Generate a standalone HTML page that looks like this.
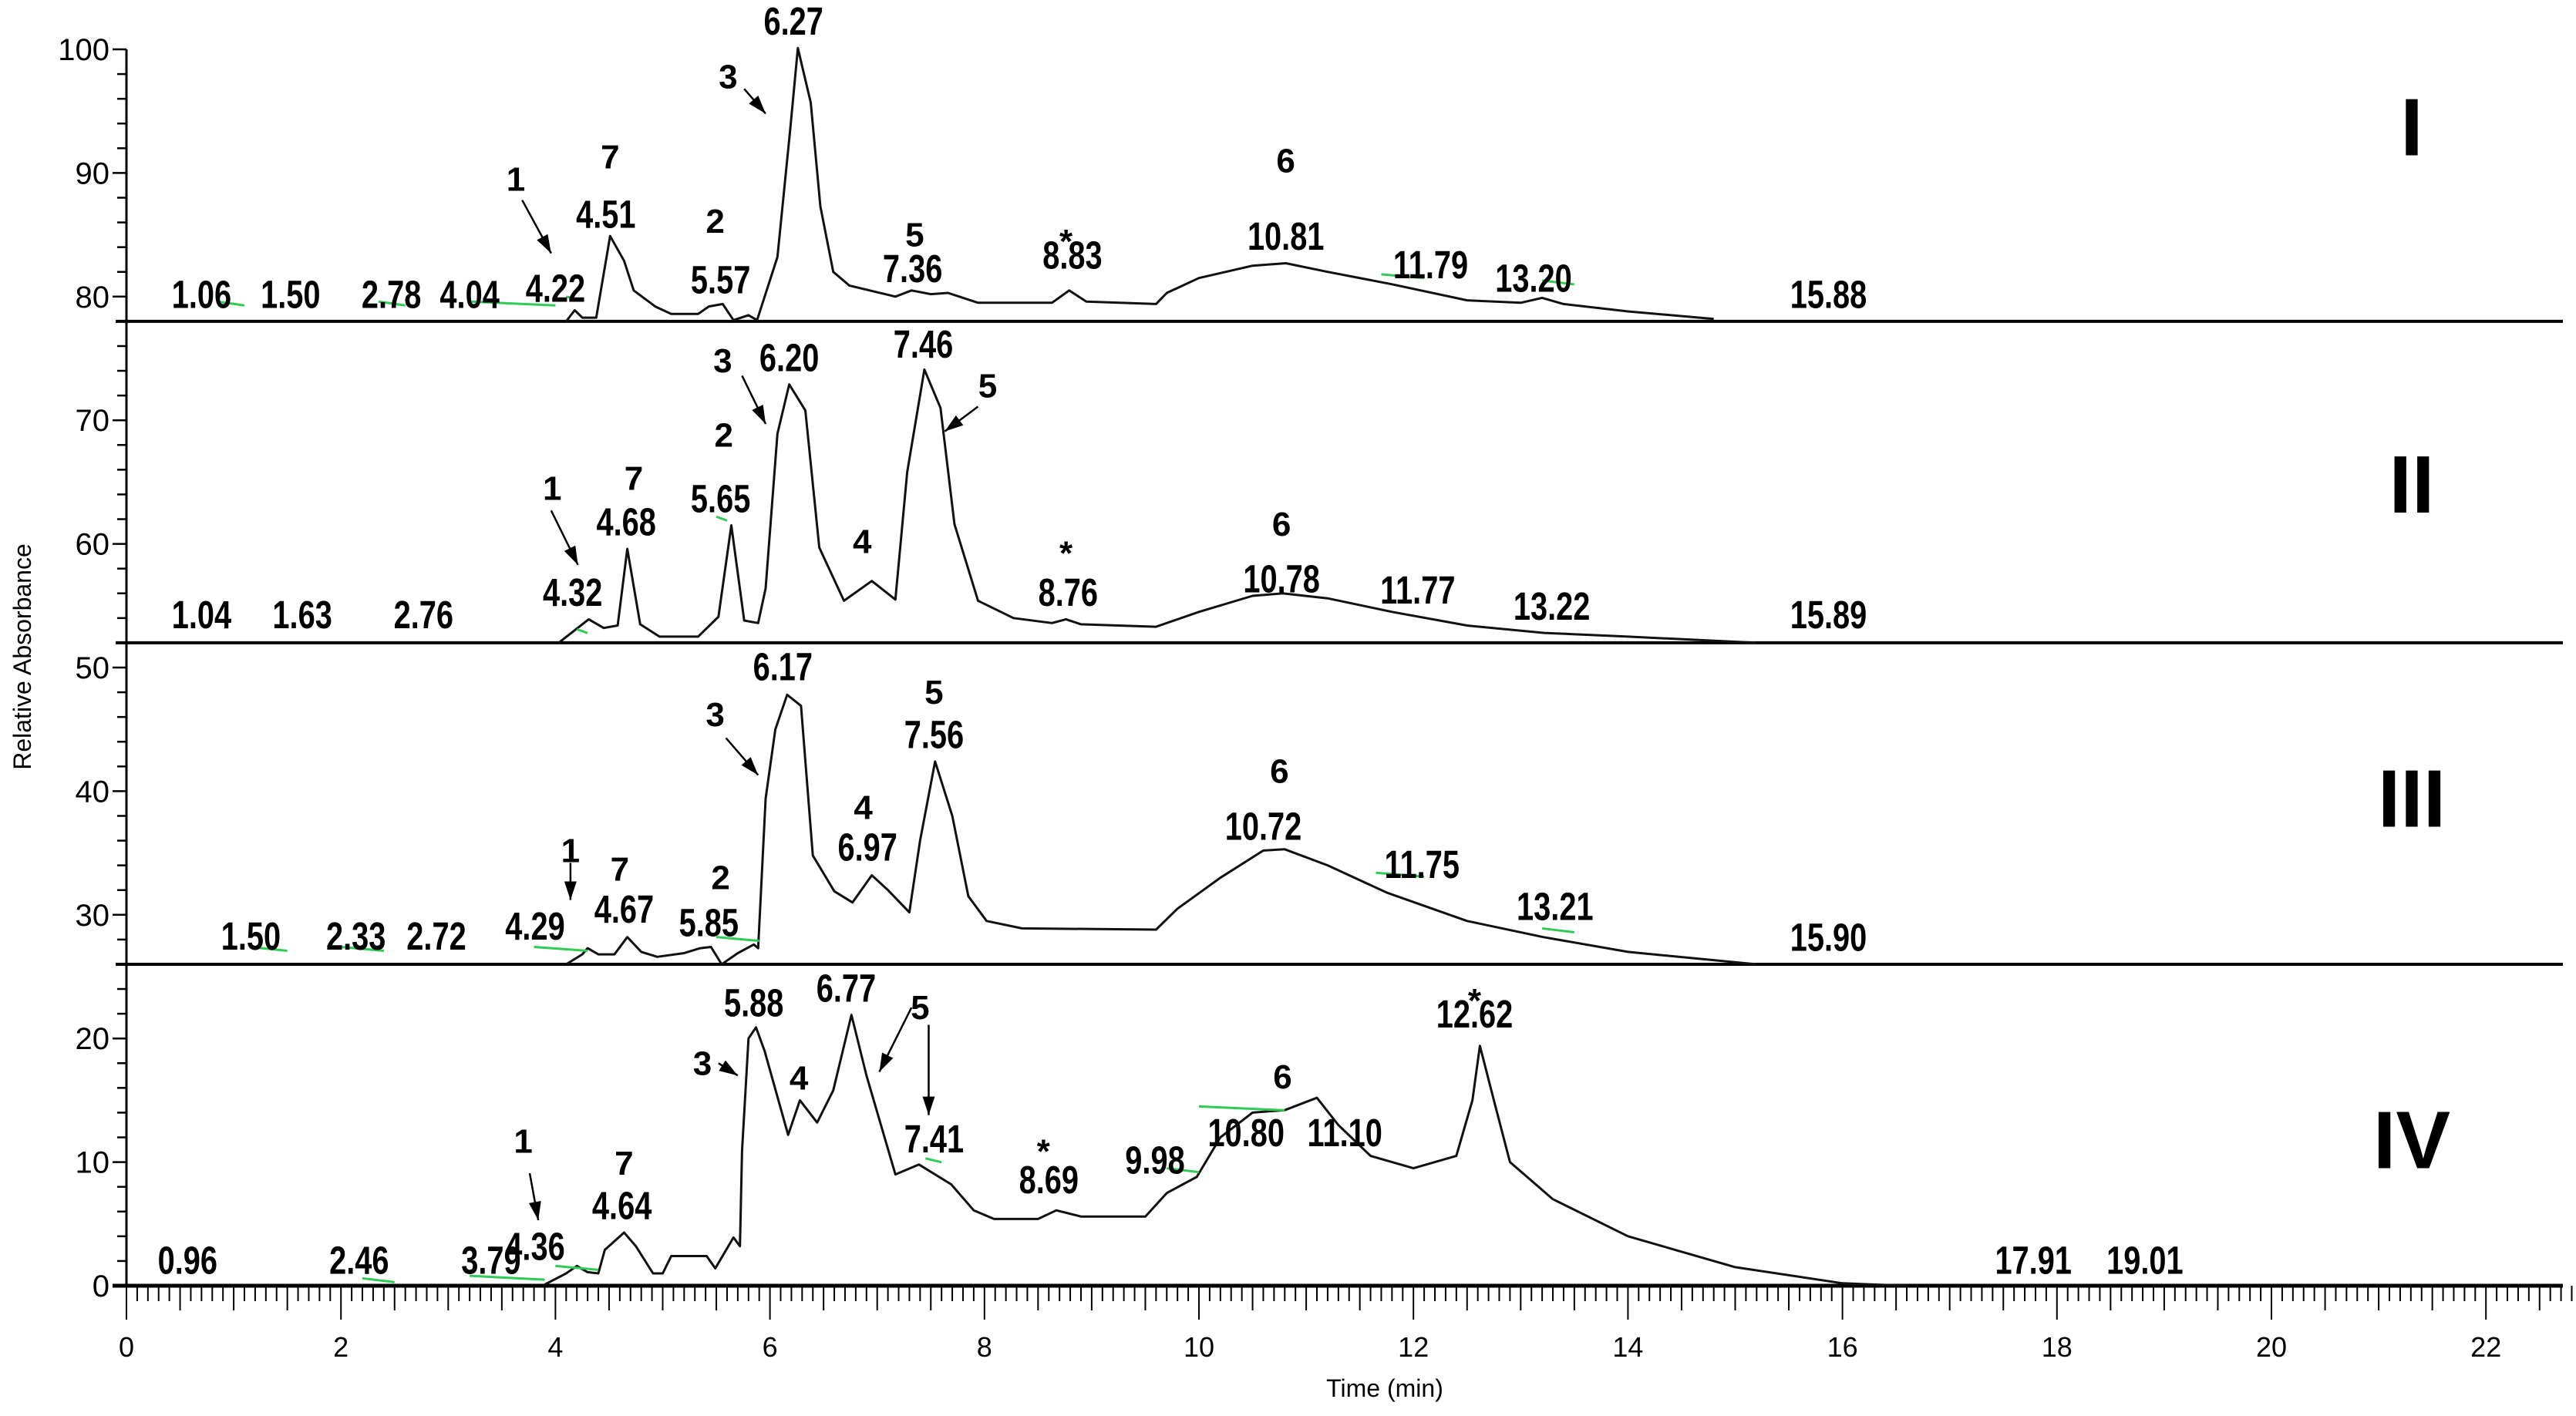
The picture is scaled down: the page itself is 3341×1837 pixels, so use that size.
<!DOCTYPE html>
<html><head><meta charset="utf-8">
<style>
html,body{margin:0;padding:0;background:#fff;}
svg{display:block;}
text{font-family:"Liberation Sans",Arial,sans-serif;}
</style></head>
<body>
<svg id="chart" width="3341" height="1837" viewBox="0 0 3341 1837" xmlns="http://www.w3.org/2000/svg">
<g id="axes"></g>
<g id="traces"></g>
<g id="labels"></g>
<text x="0" y="0" transform="translate(40,852) rotate(-90)" font-size="32" text-anchor="middle">Relative Absorbance</text>
<text x="1796" y="1812" font-size="32" text-anchor="middle">Time (min)</text>
</svg>
<script>
// ---- data ----
const xTicks = [0,2,4,6,8,10,12,14,16,18,20,22];
const yTicks = [0,10,20,30,40,50,60,70,80,90,100];
const baselines = [78,52,26,0];
const traceNames = ["I","II","III","IV"];
const traceITimes  = [4.1,4.18,4.25,4.38,4.51,4.64,4.73,4.93,5.08,5.33,5.43,5.56,5.66,5.8,5.88,6.07,6.19,6.26,6.38,6.47,6.59,6.74,7.17,7.32,7.5,7.66,7.94,8.63,8.79,8.95,9.6,9.7,10.0,10.5,10.81,11.2,11.8,12.5,13.0,13.2,13.4,14.0,14.8];
const traceIValues = [78,78.9,78.3,78.3,84.9,82.9,80.5,79.2,78.6,78.6,79.2,79.4,78.1,78.5,78.1,83.2,93.6,100.1,95.7,87.3,82,80.9,80.0,80.5,80.2,80.3,79.5,79.5,80.5,79.6,79.4,80.3,81.5,82.5,82.7,82,81,79.7,79.5,79.9,79.4,78.8,78.2];
const traceIITimes  = [4.03,4.31,4.45,4.58,4.67,4.79,4.97,5.33,5.52,5.64,5.76,5.89,5.96,6.07,6.18,6.33,6.46,6.69,6.95,7.17,7.28,7.44,7.59,7.72,7.94,8.27,8.63,8.76,8.9,9.6,10.0,10.5,10.78,11.2,11.8,12.5,13.22,14.0,15.2];
const traceIIValues = [52,53.9,53.2,53.4,59.6,53.5,52.5,52.5,54.1,61.5,53.8,53.6,56.4,68.9,72.9,70.8,59.7,55.4,57,55.5,65.8,74.1,71,61.6,55.4,54,53.6,53.9,53.5,53.3,54.5,55.8,56,55.6,54.5,53.4,52.8,52.5,52];
const traceIIITimes  = [4.1,4.25,4.3,4.4,4.55,4.67,4.8,4.95,5.2,5.35,5.45,5.55,5.7,5.85,5.89,5.96,6.05,6.16,6.29,6.4,6.6,6.77,6.95,7.1,7.3,7.4,7.54,7.7,7.85,8.02,8.35,9.6,9.8,10.2,10.6,10.8,11.2,11.75,12.5,13.21,14.0,15.2];
const traceIIIValues = [26,26.8,27.3,26.8,26.8,28.2,27,26.6,26.9,27.3,27.4,26,26.9,27.6,27.3,39.4,45,47.8,46.9,34.8,31.9,31.0,33.2,32,30.2,36,42.4,38,31.5,29.5,28.9,28.8,30.5,33,35.2,35.3,34,31.8,29.5,28.2,27,26];
const traceIVTimes  = [3.9,4.1,4.2,4.3,4.4,4.46,4.64,4.75,4.91,5.0,5.08,5.41,5.49,5.66,5.72,5.74,5.8,5.87,5.95,6.17,6.28,6.44,6.59,6.76,6.9,7.17,7.39,7.69,7.9,8.09,8.5,8.67,8.9,9.5,9.7,9.85,9.98,10.2,10.5,10.8,11.1,11.3,11.6,12.0,12.4,12.55,12.62,12.75,12.9,13.3,14.0,15.0,16.0,16.6];
const traceIVValues = [0.1,1.0,1.6,1.1,1.0,2.9,4.3,3.2,1.0,1.0,2.4,2.4,1.4,3.9,3.2,10.9,20,20.9,19,12.2,15.0,13.2,15.8,21.9,17,9.0,9.8,8.2,6.1,5.4,5.4,6.1,5.6,5.6,7.5,8.2,8.8,12,14,14.2,15.2,13,10.5,9.5,10.5,15,19.4,15,10,7,4,1.5,0.2,0];
// peak label texts, x-centre (min), y-centre (abs units)
const labelTexts = ["1.06","1.50","2.78","4.04","4.22","4.51","5.57","6.27","7.36","8.83","10.81","11.79","13.20","15.88",
 "1.04","1.63","2.76","4.32","4.68","5.65","6.20","7.46","8.76","10.78","11.77","13.22","15.89",
 "1.50","2.33","2.72","4.29","4.67","5.85","6.17","6.97","7.56","10.72","11.75","13.21","15.90",
 "0.96","2.46","3.79","4.36","4.64","5.88","6.77","7.41","8.69","9.98","10.80","11.10","12.62","17.91","19.01"];
const labelX = [0.70,1.53,2.47,3.20,4.00,4.47,5.54,6.22,7.33,8.82,10.81,12.16,13.12,15.87,
 0.70,1.64,2.77,4.16,4.66,5.54,6.18,7.43,8.78,10.77,12.04,13.29,15.87,
 1.16,2.14,2.89,3.81,4.64,5.43,6.12,6.91,7.53,10.60,12.08,13.32,15.87,
 0.57,2.17,3.40,3.81,4.62,5.85,6.71,7.53,8.60,9.59,10.44,11.36,12.57,17.78,18.82];
const labelY = [80.2,80.2,80.2,80.2,80.7,86.7,81.4,102.3,82.3,83.4,84.9,82.6,81.5,80.2,
 54.3,54.3,54.3,56.1,61.8,63.7,75.1,76.2,56.1,57.2,56.3,55,54.3,
 28.3,28.3,28.3,29.1,30.5,29.4,50.1,35.5,44.6,37.2,34.1,30.7,28.2,
 2.1,2.1,2.1,3.2,6.5,22.9,24.1,11.9,8.6,10.2,12.4,12.4,22,2.1,2.1];
// component numbers (serif)
const compTexts = ["7","1","2","3","5","*","6", "1","7","2","3","5","4","*","6", "1","7","2","3","5","4","6", "1","7","3","4","5","*","6","*"];
const compX = [4.51,3.63,5.49,5.61,7.35,8.76,10.81, 3.97,4.73,5.57,5.56,8.03,6.86,8.76,10.77, 4.14,4.60,5.54,5.49,7.53,6.87,10.75, 3.70,4.64,5.37,6.27,7.40,8.55,10.78,12.57];
const compY = [91.3,89.5,86.1,97.8,85.0,84.9,91.0, 64.5,65.3,68.8,74.8,72.8,60.2,59.7,61.6, 35.2,33.7,33.0,46.2,48.0,38.7,41.6, 11.7,9.9,18,16.8,22.5,11.3,16.9,23.5];
// arrows: from (t,v) to (t,v)
const arrowFromT=[3.69,5.76,3.96,5.74,7.94,4.14,5.59,3.76,5.52,7.32,7.48];
const arrowFromV=[87.8,96.8,62.7,73.6,71.1,34.2,44.3,9.1,18,22.5,21.1];
const arrowToT=[3.96,5.96,4.21,5.96,7.63,4.14,5.89,3.84,5.70,7.02,7.48];
const arrowToV=[83.5,94.8,58.3,69.7,69.1,31.2,41.3,5.3,17,17.3,13.8];
const numeralTexts=["I","II","III","IV"];
const numeralY=[93.6,64.7,39.3,11.7];
const greenT=[[0.85,1.1],[2.35,2.6],[3.2,4.0],[4.1,4.25],[4.2,4.3],[5.5,5.6],[11.7,12.1],[13.2,13.5],
 [1.15,1.5],[2.0,2.4],[3.8,4.3],[5.5,5.9],[11.65,12.1],[13.2,13.5],
 [2.2,2.5],[3.2,3.9],[4.0,4.4],[7.45,7.6],[9.7,10.0],[10.0,10.8]];
const greenV=[79.6,79.6,79.6,80,53.1,62.2,81.8,81.3,
 27.4,27.4,27.4,28.2,33.4,28.9,
 0.6,0.8,1.6,10.3,9.5,14.5];

// ---- scales ----
const X0=164, PXMIN=139.1, Y0=1668, PXUNIT=16.04;
function sx(t){return X0+t*PXMIN;}
function sy(v){return Y0-v*PXUNIT;}
const NS="http://www.w3.org/2000/svg";
function mk(tag,attrs,parent){const e=document.createElementNS(NS,tag);for(const k in attrs)e.setAttribute(k,attrs[k]);parent.appendChild(e);return e;}
const axes=document.getElementById('axes'), traces=document.getElementById('traces'), labels=document.getElementById('labels');

// y axis
let ya=mk('line',{x1:sx(0),y1:sy(0),x2:sx(0),y2:sy(100),stroke:'#000','stroke-width':3},axes);


for(let v=0;v<=100;v+=2){
  const major=v%10===0;
  const t=mk('line',{x1:sx(0)-(major?18:12),y1:sy(v),x2:sx(0),y2:sy(v),stroke:'#000','stroke-width':2.5},axes);
  
  
}
yTicks.forEach(v=>{
  const t=mk('text',{x:sx(0)-22,y:sy(v)+14,'font-size':40,'text-anchor':'end'},axes);
  t.textContent=v;
  
  
});
// x axis
let xa=mk('line',{x1:sx(0)-18,y1:sy(0),x2:3324,y2:sy(0),stroke:'#000','stroke-width':5},axes);


for(let i=0;i<=228;i++){
  const t=i/10;
  const major=i%20===0, mid=i%5===0;
  const len=major?44:(mid?32:20);
  const l=mk('line',{x1:sx(t),y1:sy(0),x2:sx(t),y2:sy(0)+len,stroke:'#000','stroke-width':2},axes);
  
  
}
xTicks.forEach(t=>{
  const e=mk('text',{x:sx(t),y:sy(0)+92,'font-size':36,'text-anchor':'middle'},axes);
  e.textContent=t;
  
  
});
// baselines for traces I-III
baselines.slice(0,3).forEach((b,i)=>{
  const l=mk('line',{x1:sx(-0.1),y1:sy(b),x2:3324,y2:sy(b),stroke:'#000','stroke-width':4},axes);
  
  
});
// traces
const allT=[traceITimes,traceIITimes,traceIIITimes,traceIVTimes];
const allV=[traceIValues,traceIIValues,traceIIIValues,traceIVValues];
allT.forEach((ts,k)=>{
  const d=ts.map((t,i)=>(i?'L':'M')+sx(t).toFixed(1)+','+sy(allV[k][i]).toFixed(1)).join(' ');
  const p=mk('path',{d:d,fill:'none',stroke:'#111','stroke-width':3,'stroke-linejoin':'round'},traces);
  
  
});
// green integration marks
greenT.forEach((g,i)=>{
  const l=mk('line',{x1:sx(g[0]),y1:sy(greenV[i]),x2:sx(g[1]),y2:sy(greenV[i])+5,stroke:'#2ecc55','stroke-width':3},labels);
  
  
});
// peak labels (condensed bold)
labelTexts.forEach((s,i)=>{
  const e=mk('text',{x:0,y:0,transform:'translate('+sx(labelX[i]).toFixed(1)+','+(sy(labelY[i])+18).toFixed(1)+') scale(0.78,1)','font-size':51,'font-weight':'bold','text-anchor':'middle'},labels);
  e.textContent=s;
  
  
});
// component numbers
compTexts.forEach((s,i)=>{
  const e=mk('text',{x:sx(compX[i]),y:sy(compY[i])+(s==='*'?22:15),'font-size':44,'font-weight':'bold','text-anchor':'middle','font-family':'"Liberation Serif",serif'},labels);
  e.textContent=s;
  
  
});
// arrows
arrowFromT.forEach((t,i)=>{
  const x1=sx(t),y1=sy(arrowFromV[i]),x2=sx(arrowToT[i]),y2=sy(arrowToV[i]);
  const l=mk('line',{x1:x1,y1:y1,x2:x2,y2:y2,stroke:'#000','stroke-width':2.5},labels);
  
  
  const a=Math.atan2(y2-y1,x2-x1),L=24,W=8;
  const bx=x2-L*Math.cos(a),by=y2-L*Math.sin(a);
  const pts=[x2+','+y2,(bx+W*Math.sin(a))+','+(by-W*Math.cos(a)),(bx-W*Math.sin(a))+','+(by+W*Math.cos(a))].join(' ');
  const h=mk('polygon',{points:pts,fill:'#000'},labels);
  
  
});
// roman numerals
numeralTexts.forEach((s,i)=>{
  const e=mk('text',{x:3128,y:sy(numeralY[i])+35,'font-size':106,'font-weight':'bold','text-anchor':'middle','font-family':'"Liberation Serif",serif'},labels);
  e.textContent=s;
  
  
});
</script>
</body></html>
